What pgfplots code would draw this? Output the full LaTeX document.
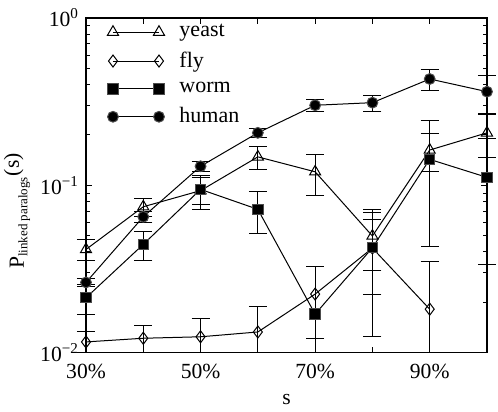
\documentclass[border=0pt]{standalone}
\usepackage{fontspec}
\setmainfont{Liberation Serif}
\usepackage{pgfplots}
\pgfplotsset{compat=1.18}
\usepackage{pgfplotstable}

\pgfplotstableread{
x y ep em
30 0.0414 0.006 0.006
40 0.0745 0.009 0.009
50 0.093 0.021 0.021
60 0.148 0.0235 0.0235
70 0.1205 0.033 0.033
80 0.0498 0.0188 0.0188
90 0.1626 0.041 0.041
100 0.206 0.06 0.06
}\yeast
\pgfplotstableread{
x y ep em
30 0.0116 0.0018 0.0016
40 0.0122 0.00236 0.0022
50 0.01245 0.0036 0.00245
60 0.0133 0.0055 0.0033
70 0.0224 0.0102 0.0102
80 0.0422 0.0297 0.0297
90 0.0182 0.017 0.0082
}\fly
\pgfplotstableread{
x y ep em
30 0.0213 0.0044 0.0044
40 0.0444 0.0088 0.0088
50 0.0946 0.0175 0.0175
60 0.0719 0.0205 0.0205
70 0.0170 0.0156 0.0070
80 0.0424 0.020 0.020
90 0.143 0.100 0.100
100 0.1116 0.078 0.078
}\worm
\pgfplotstableread{
x y ep em
30 0.0263 0.0016 0.0016
40 0.0649 0.005 0.005
50 0.130 0.009 0.009
60 0.206 0.0125 0.0125
70 0.301 0.026 0.026
80 0.312 0.034 0.034
90 0.432 0.062 0.062
100 0.363 0.093 0.093
}\human

\begin{document}
\begin{tikzpicture}
\useasboundingbox (-43pt,-29.65pt) rectangle (206pt,176.35pt);
\begin{axis}[
  at={(0,0)}, anchor=south west,
  scale only axis, width=200.5pt, height=167.35pt,
  ymode=log, ymin=0.01, ymax=1,
  xmin=30, xmax=100,
  xtick={30,40,50,60,70,80,90,100},
  xticklabels={30\%,,50\%,,70\%,,90\%,},
  ytick={0.01,0.1,1},
  yticklabels={10\textsuperscript{−2},10\textsuperscript{−1},10\textsuperscript{0}},
  tick align=inside,
  major tick length=3pt, minor tick length=2pt,
  tick style={black, line width=0.5pt},
  axis line style={line width=0.6pt},
  font=\fontsize{10.8}{13}\selectfont,
  xticklabel style={yshift=-2pt},
  clip=false,
  xlabel={s},
  xlabel style={at={(axis description cs:0.5,-0.14)}, anchor=center},
  ylabel={P\textsubscript{\fontsize{6.5}{7}\selectfont linked paralogs}\raisebox{2.5pt}{(s)}},
  ylabel style={at={(axis description cs:-0.172,0.423)}, anchor=center, rotate=0},
  legend style={draw=none, fill=none, at={(axis description cs:0.0475,1.0)}, anchor=north west,
    font=\fontsize{11}{13}\selectfont, row sep=2pt, inner sep=1pt},
  legend cell align=left,
  legend image code/.code={\draw[mark repeat=1,mark phase=1,#1] plot coordinates {(0pt,0pt) (23pt,0pt)}; \path (31pt,0pt);},
  error bars/error mark options={rotate=90, mark size=4.5pt, line width=0.5pt, black},
]
\addplot[black, line width=0.5pt, mark=triangle, mark size=3.2pt, mark options={solid, fill=none, draw=black},
  error bars/.cd, y dir=both, y explicit, error bar style={black, line width=0.5pt}]
  table[x=x, y=y, y error plus=ep, y error minus=em]{\yeast};
\addlegendentry{yeast}
\addplot[black, line width=0.5pt, mark=diamond, mark size=3pt, mark options={solid, fill=none, draw=black},
  error bars/.cd, y dir=both, y explicit, error bar style={black, line width=0.5pt}]
  table[x=x, y=y, y error plus=ep, y error minus=em]{\fly};
\addlegendentry{fly}
\addplot[black, line width=0.5pt, mark=square*, mark size=2.6pt, mark options={solid, fill=black, draw=black!70},
  error bars/.cd, y dir=both, y explicit, error bar style={black, line width=0.5pt}]
  table[x=x, y=y, y error plus=ep, y error minus=em]{\worm};
\addlegendentry{worm}
\addplot[black, line width=0.5pt, mark=*, mark size=2.7pt, mark options={solid, fill=black, draw=black!70},
  error bars/.cd, y dir=both, y explicit, error bar style={black, line width=0.5pt}]
  table[x=x, y=y, y error plus=ep, y error minus=em]{\human};
\addlegendentry{human}
\end{axis}
\end{tikzpicture}
\end{document}
